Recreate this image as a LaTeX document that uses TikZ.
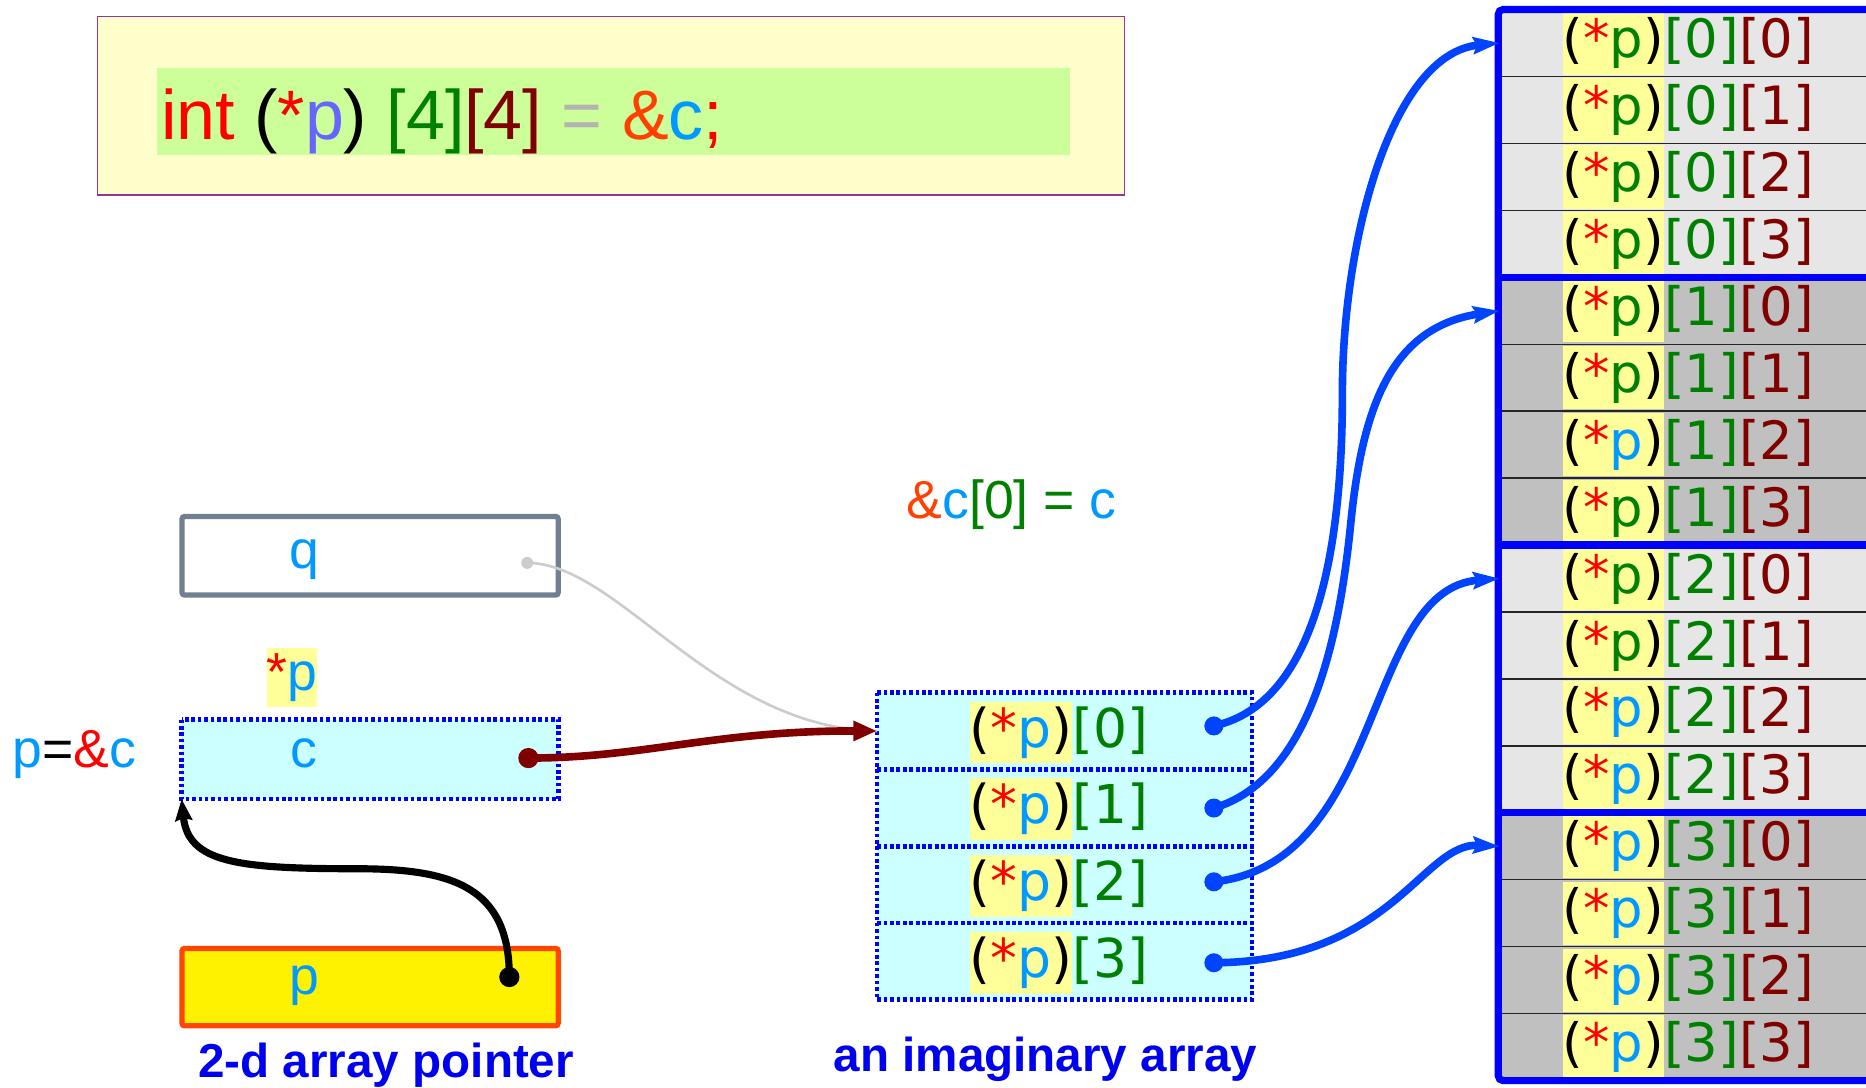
\documentclass[tikz,border=0pt]{standalone}
\usepackage{fontspec}
\setmainfont{Liberation Sans}
\newfontfamily\dvfam{DejaVu Sans}
\usetikzlibrary{arrows.meta}
\definecolor{codey}{HTML}{FFFFCC}
\definecolor{codeg}{HTML}{CCFF99}
\definecolor{framepurple}{HTML}{993399}
\definecolor{skyb}{HTML}{0099FF}
\definecolor{pgreen}{HTML}{008000}
\definecolor{pdark}{HTML}{800000}
\definecolor{pblue}{HTML}{0099FF}
\definecolor{eqgray}{HTML}{B3B3B3}
\definecolor{pperi}{HTML}{6666FF}
\definecolor{ampc}{HTML}{FF4000}
\definecolor{hly}{HTML}{FFFF99}
\definecolor{cyanf}{HTML}{CCFFFF}
\definecolor{tlight}{HTML}{E6E6E6}
\definecolor{tdark}{HTML}{C0C0C0}
\definecolor{arrblue}{RGB}{0,68,255}
\definecolor{slate}{HTML}{708090}
\definecolor{orangeb}{HTML}{FF4500}
\definecolor{labblue}{HTML}{0000F0}
\newcommand\myCodeFont{\fontsize{29.4}{34}\selectfont}
\newcommand\myLblFont{\fontsize{22.5}{27}\selectfont}
\newcommand\myTblFont{\dvfam\fontsize{22.2}{26}\selectfont}
\newcommand\myImFont{\dvfam\fontsize{22.5}{27}\selectfont}
\newcommand\myCapFont{\bfseries\fontsize{20}{24}\selectfont}
\begin{document}
\begin{tikzpicture}[x=0.5pt,y=-0.5pt,
  tcell/.style={draw=black!85,line width=0.6pt,minimum width=156.5pt,minimum height=28.125pt,inner sep=0pt,outer sep=0pt},
  hlnode/.style={fill=hly,inner sep=0pt,outer sep=0pt},
  imcell/.style={fill=cyanf,minimum width=157.5pt,minimum height=32.25pt,inner sep=0pt,outer sep=0pt},
  dotbord/.style={draw=blue,line width=2pt,dash pattern=on 1.5pt off 1.2pt},
  bdot/.style={circle,fill=arrblue,inner sep=0pt,minimum size=8pt},
  lbl/.style={font=\myLblFont,inner sep=0pt},
  bluearr/.style={draw=arrblue,line width=3.2pt,-{Stealth[length=11pt,width=7pt,inset=1.5pt]}},
  blackarr/.style={draw=black,line width=3pt,-{Stealth[length=9pt,width=7pt,inset=1pt]}},
  brownarr/.style={draw=pdark,line width=3.2pt,-{Triangle[length=10pt,width=8pt]}},
  grayln/.style={draw=black!20,line width=1.1pt},
  tborder/.style={draw=blue,line width=3pt}]
\useasboundingbox (0,0) rectangle (1568,914);
\clip (0,0) rectangle (1568,914);

% ---------- code box ----------
\node[draw=framepurple,line width=0.6pt,fill=codey,minimum width=431.5pt,minimum height=75pt,inner sep=0pt] (frame) at (513.5,89) {};
\node[fill=codeg,minimum width=383.5pt,minimum height=36.5pt,inner sep=0pt] (codebg) at (515.5,93.5) {};
\node[anchor=base west,inner sep=0pt,font=\myCodeFont] (code) at (135,117)
  {\textcolor{red}{int} (\textcolor{red}{*}\textcolor{pperi}{p}) \textcolor{pgreen}{[4]}\textcolor{pdark}{[4]} \textcolor{eqgray}{=} \textcolor{ampc}{\&}\textcolor{skyb}{c}\textcolor{red}{;}};

% ---------- right table ----------
\foreach \r/\pc in {0/pgreen,1/pgreen,2/pgreen,3/pgreen,4/pgreen,5/pgreen,6/pblue,7/pgreen,8/pgreen,9/pgreen,10/pblue,11/pblue,12/pblue,13/pblue,14/pblue,15/pblue}{
  \pgfmathtruncatemacro{\gi}{\r/4}
  \pgfmathtruncatemacro{\gj}{\r-4*\gi}
  \ifodd\gi \def\cf{tdark}\else\def\cf{tlight}\fi
  \node[tcell,fill=\cf] (r\r) at (1416.5,{36.125+\r*56.25}) {};
  \node[hlnode,minimum height=26.6pt,anchor=west,font=\myTblFont] (h\r) at (1313,{36.125+\r*56.25}) {(\textcolor{red}{*}\textcolor{\pc}{p})};
  \node[anchor=base west,inner sep=0pt,font=\myTblFont] (ix\r) at (h\r.base east) {\textcolor{pgreen}{[\gi]}\textcolor{pdark}{[\gj]}};
}
\draw[tborder,rounded corners=2pt] (1259,8) rectangle (1590,908);
\foreach \yy in {233,458,683}{\draw[tborder] (1259,\yy) -- (1590,\yy);}

% ---------- imaginary array ----------
\foreach \k in {0,1,2,3}{
  \node[imcell] (a\k) at (894.5,{614.25+\k*64.5}) {};
}
\foreach \k in {0,1,2,3}{
  \draw[dotbord] (a\k.north west) rectangle (a\k.south east);
  \node[hlnode,minimum height=26pt,anchor=west,font=\myImFont] (ah\k) at (815,{615.5+\k*64.5}) {(\textcolor{red}{*}\textcolor{skyb}{p})};
  \node[anchor=base west,inner sep=0pt,font=\myImFont] (ai\k) at (ah\k.base east) {\textcolor{pgreen}{[\k]}};
}
\node[anchor=base,lbl] (eqlab) at (850,436) {\textcolor{ampc}{\&}\textcolor{skyb}{c}\textcolor{pgreen}{[0] =} \textcolor{skyb}{c}};

% ---------- left boxes ----------
\node[draw=slate,line width=2.2pt,fill=white,rounded corners=1pt,minimum width=158pt,minimum height=33pt,inner sep=0pt] (qbox) at (311,467) {};
\node[fill=cyanf,minimum width=158pt,minimum height=33pt,inner sep=0pt] (cbox) at (311,638) {};
\draw[dotbord] (cbox.north west) rectangle (cbox.south east);
\node[draw=orangeb,line width=2.2pt,fill=yellow,rounded corners=1pt,minimum width=158pt,minimum height=32.5pt,inner sep=0pt] (pbox) at (311,829.5) {};

\node[lbl,anchor=base] (qlab) at (256,478) {\textcolor{skyb}{q}};
\node[lbl,anchor=base] (clab) at (255,645) {\textcolor{skyb}{c}};
\node[lbl,anchor=base] (plab) at (256,836) {\textcolor{skyb}{p}};
\node[lbl,fill=hly,minimum height=25pt,anchor=base] (starp) at (245.5,580) {\textcolor{red}{*}\textcolor{skyb}{p}};
\node[lbl,anchor=base west] (peqc) at (10,645) {\textcolor{skyb}{p}=\textcolor{red}{\&}\textcolor{skyb}{c}};

\node[anchor=base,inner sep=0pt,font=\myCapFont,text=labblue] (cap1) at (324.5,905) {2-d array pointer};
\node[anchor=base,inner sep=0pt,font=\myCapFont,text=labblue] (cap2) at (878.5,900) {an imaginary array};

% ---------- dots ----------
\node[circle,fill=black!20,inner sep=0pt,minimum size=5pt] (qd) at (443,473) {};
\node[circle,fill=pdark,inner sep=0pt,minimum size=8.5pt] (cd) at (444,637) {};
\node[circle,fill=black,inner sep=0pt,minimum size=8.5pt] (pd) at (428,821) {};
\node[bdot] (d0) at (1020,610) {};
\node[bdot] (d1) at (1020,679) {};
\node[bdot] (d2) at (1020,741) {};
\node[bdot] (d3) at (1020,809) {};

% ---------- connectors ----------
\draw[grayln] (qd.center) .. controls (520,473) and (600,612) .. (a0.west);
\draw[brownarr] (cd.center) .. controls (540,637) and (600,614) .. (a0.west);
\draw[blackarr] (pd.center) .. controls (428,745) and (380,730) .. (300,730) .. controls (200,730) and (158,725) .. (cbox.south west);
\draw[bluearr] (d0.center) .. controls (1110,590) and (1128,450) .. (1128,330) .. controls (1128,200) and (1170,45) .. (r0.west);
\draw[bluearr] (d1.center) .. controls (1100,655) and (1125,540) .. (1135,440) .. controls (1145,340) and (1170,275) .. (r4.west);
\draw[bluearr] (d2.center) .. controls (1165,725) and (1145,495) .. (r8.west);
\draw[bluearr] (d3.center) .. controls (1170,808) and (1195,708) .. (r12.west);
\end{tikzpicture}
\end{document}
